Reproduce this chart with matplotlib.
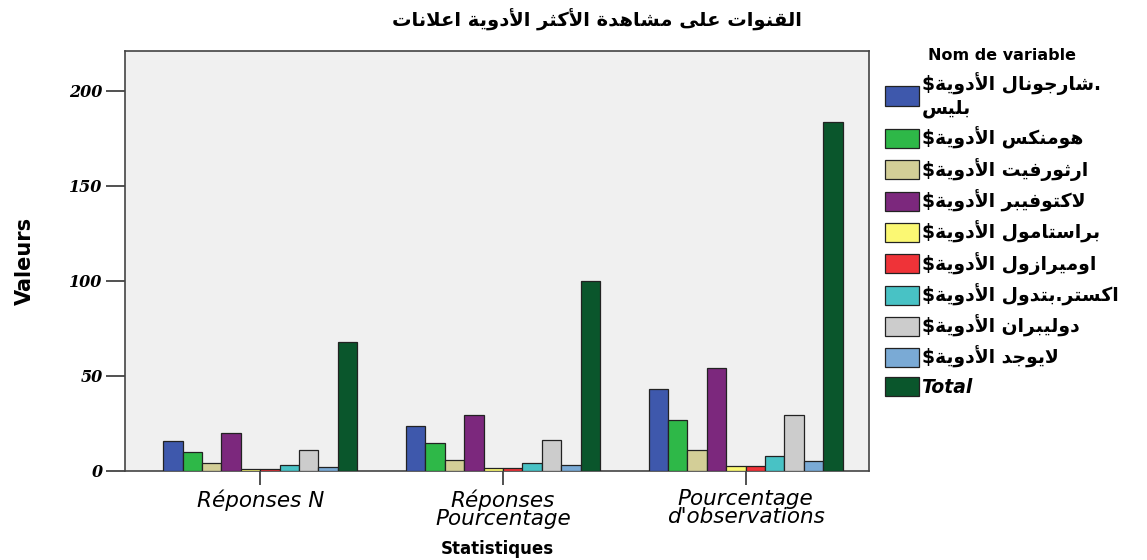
import numpy as np
import matplotlib
matplotlib.use("Agg")
import matplotlib.pyplot as plt

# Arabic text has to be shaped by hand: matplotlib lays glyphs left to right
# without joining, so map letters to their presentation forms and reverse.
FORMS = {
    'ا': ('\uFE8D', '\uFE8E', None, None),
    'أ': ('\uFE83', '\uFE84', None, None),
    'إ': ('\uFE87', '\uFE88', None, None),
    'آ': ('\uFE81', '\uFE82', None, None),
    'ب': ('\uFE8F', '\uFE90', '\uFE91', '\uFE92'),
    'ة': ('\uFE93', '\uFE94', None, None),
    'ت': ('\uFE95', '\uFE96', '\uFE97', '\uFE98'),
    'ث': ('\uFE99', '\uFE9A', '\uFE9B', '\uFE9C'),
    'ج': ('\uFE9D', '\uFE9E', '\uFE9F', '\uFEA0'),
    'ح': ('\uFEA1', '\uFEA2', '\uFEA3', '\uFEA4'),
    'خ': ('\uFEA5', '\uFEA6', '\uFEA7', '\uFEA8'),
    'د': ('\uFEA9', '\uFEAA', None, None),
    'ذ': ('\uFEAB', '\uFEAC', None, None),
    'ر': ('\uFEAD', '\uFEAE', None, None),
    'ز': ('\uFEAF', '\uFEB0', None, None),
    'س': ('\uFEB1', '\uFEB2', '\uFEB3', '\uFEB4'),
    'ش': ('\uFEB5', '\uFEB6', '\uFEB7', '\uFEB8'),
    'ص': ('\uFEB9', '\uFEBA', '\uFEBB', '\uFEBC'),
    'ض': ('\uFEBD', '\uFEBE', '\uFEBF', '\uFEC0'),
    'ط': ('\uFEC1', '\uFEC2', '\uFEC3', '\uFEC4'),
    'ظ': ('\uFEC5', '\uFEC6', '\uFEC7', '\uFEC8'),
    'ع': ('\uFEC9', '\uFECA', '\uFECB', '\uFECC'),
    'غ': ('\uFECD', '\uFECE', '\uFECF', '\uFED0'),
    'ف': ('\uFED1', '\uFED2', '\uFED3', '\uFED4'),
    'ق': ('\uFED5', '\uFED6', '\uFED7', '\uFED8'),
    'ك': ('\uFED9', '\uFEDA', '\uFEDB', '\uFEDC'),
    'ل': ('\uFEDD', '\uFEDE', '\uFEDF', '\uFEE0'),
    'م': ('\uFEE1', '\uFEE2', '\uFEE3', '\uFEE4'),
    'ن': ('\uFEE5', '\uFEE6', '\uFEE7', '\uFEE8'),
    'ه': ('\uFEE9', '\uFEEA', '\uFEEB', '\uFEEC'),
    'و': ('\uFEED', '\uFEEE', None, None),
    'ى': ('\uFEEF', '\uFEF0', None, None),
    'ي': ('\uFEF1', '\uFEF2', '\uFEF3', '\uFEF4'),
}
LAM_ALEF = {'ا': ('\uFEFB', '\uFEFC'), 'أ': ('\uFEF7', '\uFEF8'),
            'إ': ('\uFEF9', '\uFEFA'), 'آ': ('\uFEF5', '\uFEF6')}


def shape_line(text):
    units = []
    i = 0
    while i < len(text):
        c = text[i]
        if c == 'ل' and i + 1 < len(text) and text[i + 1] in LAM_ALEF:
            units.append(('LA', text[i + 1]))
            i += 2
        else:
            units.append(c)
            i += 1

    def joins_next(u):
        return (not isinstance(u, tuple)) and u in FORMS and FORMS[u][2] is not None

    def is_ar(u):
        return isinstance(u, tuple) or u in FORMS

    res = []
    for k, u in enumerate(units):
        prev_ok = k > 0 and joins_next(units[k - 1])
        next_ok = k + 1 < len(units) and is_ar(units[k + 1]) and joins_next(u)
        if isinstance(u, tuple):
            iso, fin = LAM_ALEF[u[1]]
            res.append(fin if prev_ok else iso)
        elif u in FORMS:
            iso, fin, ini, med = FORMS[u]
            if prev_ok and next_ok:
                res.append(med)
            elif prev_ok:
                res.append(fin)
            elif next_ok:
                res.append(ini)
            else:
                res.append(iso)
        else:
            res.append(u)
    return ''.join(res)[::-1]


def ar(text):
    # only touch strings that contain Arabic letters
    if not any(c in FORMS for c in text):
        return text
    return '\n'.join(shape_line(l) for l in text.split('\n'))


# ---- data ----
title = "القنوات على مشاهدة الأكثر الأدوية اعلانات"
categories = ["Réponses N", "Réponses\nPourcentage", "Pourcentage\nd'observations"]
series_labels = [
    ".شارجونال الأدوية$\nبليس",
    "هومنكس الأدوية$",
    "ارثورفيت الأدوية$",
    "لاكتوفيبر الأدوية$",
    "براستامول الأدوية$",
    "اوميرازول الأدوية$",
    "اكستر.بتدول الأدوية$",
    "دوليبران الأدوية$",
    "لايوجد الأدوية$",
    "Total",
]
chargeonal = [16, 23.5, 43.2]
humex = [10, 14.7, 27.0]
arthrofit = [4, 5.9, 10.8]
lactofiber = [20, 29.4, 54.1]
paracetamol = [1, 1.5, 2.7]
omeprazole = [1, 1.5, 2.7]
extra = [3, 4.4, 8.1]
doliprane = [11, 16.2, 29.7]
none_ = [2, 2.9, 5.4]
total = [68, 100, 183.8]
series_values = [chargeonal, humex, arthrofit, lactofiber, paracetamol,
                 omeprazole, extra, doliprane, none_, total]

colors = ['#3E58AC', '#2EB848', '#D3CE97', '#7C287D', '#FBF873',
          '#EF3338', '#48C2C5', '#CCCCCC', '#7AAAD5', '#0A562C']

fig = plt.figure(figsize=(11.47, 5.6), dpi=100, facecolor='white')
ax = fig.add_axes([0.109, 0.159, 0.649, 0.75])
ax.set_facecolor('#F0F0F0')

x = np.arange(len(categories))
n = len(series_values)
group_w = 0.80
bw = group_w / n
handles = []
for i, (vals, col) in enumerate(zip(series_values, colors)):
    off = -group_w / 2 + bw * (i + 0.5)
    h = ax.bar(x + off, vals, width=bw, color=col, edgecolor='#222222', linewidth=0.9, zorder=3)
    handles.append(h)

ax.set_xlim(-0.557, 2.51)
ax.set_ylim(0, 221)
ax.set_yticks([0, 50, 100, 150, 200])
ax.set_yticklabels(['0', '50', '100', '150', '200'], family='DejaVu Serif',
                   fontweight='bold', fontstyle='italic', fontsize=11.5)
ax.set_xticks(x)
ax.set_xticklabels(categories, family='DejaVu Sans', fontstyle='italic', fontsize=15.5,
                   linespacing=0.9)
ax.tick_params(axis='y', length=14, width=1.2, color='#333333', pad=2)
ax.tick_params(axis='x', length=10, width=1.2, color='#333333', pad=3)
for s in ax.spines.values():
    s.set_color('#444444')
    s.set_linewidth(1.2)

ax.set_ylabel('Valeurs', family='Liberation Sans Narrow', fontweight='bold', fontsize=15,
              labelpad=25)
ax.set_xlabel('Statistiques', family='DejaVu Sans', fontweight='bold', fontsize=12, labelpad=8)

fig.text(0.52, 0.965, ar(title), ha='center', va='center', family='DejaVu Sans',
         fontweight='bold', fontsize=14)

labels = [ar(l) for l in series_labels]
leg = fig.legend(handles, labels, loc='upper left', bbox_to_anchor=(0.765, 0.927),
                 frameon=False, title='Nom de variable', handlelength=1.8, handleheight=1.2,
                 handletextpad=0.15, labelspacing=0.47, borderaxespad=0,
                 alignment='center',
                 prop={'family': 'DejaVu Sans', 'weight': 'bold', 'size': 13.5})
leg.get_title().set_fontweight('bold')
leg.get_title().set_family('DejaVu Sans')
leg.get_title().set_fontsize(11.5)
leg.get_texts()[-1].set_fontstyle('italic')

fig.savefig('out.png', dpi=100, facecolor='white')
